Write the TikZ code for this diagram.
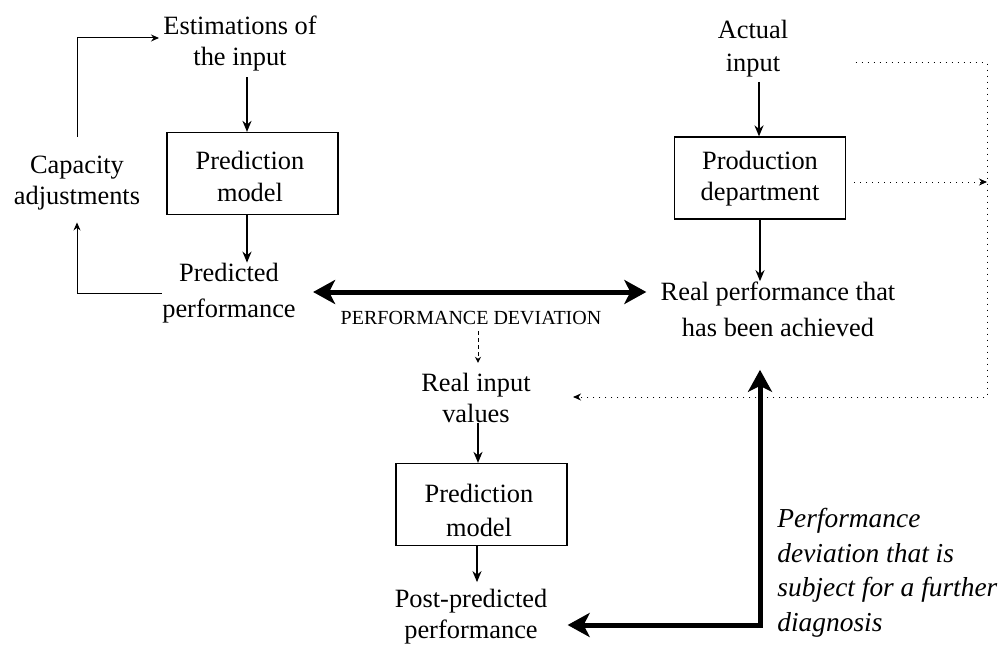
\documentclass[tikz,border=0pt]{standalone}
\usepackage{fontspec}
\setmainfont{Liberation Serif}
\usetikzlibrary{arrows.meta}
\begin{document}
\begin{tikzpicture}[x=0.5pt,y=-0.5pt,
  lbl/.style={align=center,inner sep=0pt,font=\fontsize{13.2}{15.5}\selectfont},
  wide/.style={font=\fontsize{13.2}{18}\selectfont},
  boxn/.style={draw,line width=0.6pt,minimum width=85.5pt,minimum height=41pt,inner sep=0pt},
  arr/.style={line width=1pt,-{Stealth[length=5.5pt,width=4.5pt]}},
  fbarr/.style={line width=0.5pt,-{Stealth[length=4pt,width=3.5pt]}},
  bigarr/.style={line width=2.5pt,{Stealth[length=11pt,width=12pt,inset=3pt]}-{Stealth[length=11pt,width=12pt,inset=3pt]}},
  dsharr/.style={line width=0.5pt,dash pattern=on 2pt off 1.5pt,-{Stealth[length=3pt,width=3pt]}},
  dotarr/.style={line width=0.5pt,dash pattern=on 0.5pt off 2.5pt,-{Stealth[length=4pt,width=3.5pt]}},
]
\useasboundingbox (0,0) rectangle (1006,647);

% nodes
\node[lbl] (est) at (240,44) {Estimations of\\the input};
\node[boxn] (pm1) at (252.5,173.5) {};
\node[lbl,font=\fontsize{13.2}{16}\selectfont] (pm1t) at (250,176) {Prediction\\model};
\node[lbl] (cap) at (77,183) {Capacity\\adjustments};
\node[lbl,wide] (pred) at (229,293) {Predicted\\performance};
\node[lbl,font=\fontsize{13.2}{16.5}\selectfont] (act) at (753,49) {Actual\\input};
\node[boxn] (prod) at (760,178) {};
\node[lbl,font=\fontsize{13.2}{15.5}\selectfont] (prodt) at (760,179) {Production\\department};
\node[lbl,wide] (real) at (778,309) {Real performance that\\has been achieved};
\node[font=\fontsize{10}{12}\selectfont,inner sep=0pt] (dev) at (471,318) {PERFORMANCE DEVIATION};
\node[lbl] (rin) at (476,398) {Real input\\values};
\node[boxn] (pm2) at (481.5,504.5) {};
\node[lbl,font=\fontsize{13.2}{17}\selectfont] (pm2t) at (479,510) {Prediction\\model};
\node[lbl] (post) at (471,617) {Post-predicted\\performance};
\node[font=\itshape\fontsize{13.7}{17.3}\selectfont,align=left,anchor=north west,inner sep=0pt] (diag) at (777,508) {Performance\\deviation that is\\subject for a further\\diagnosis};

% helper coordinates
\coordinate (a1) at (247,0);
\coordinate (a2) at (478,0);
\coordinate (a3) at (477,0);
\coordinate (a4) at (759,0);
\coordinate (lc) at (760,625);
\coordinate (dy) at (0,292);
\coordinate (dtr) at (987,63);
\coordinate (dbr) at (987,397);
\coordinate (dmid) at (987,182);

% left column
\draw[arr] ([yshift=-2.5pt]est.south -| a1) -- (pm1.north -| a1);
\draw[arr] (pm1.south -| a1) -- (pred.north -| a1);
\draw[fbarr] (pred.west) -| ([yshift=-6pt]cap.south);
\draw[fbarr] ([yshift=9.5pt]cap.north) |- ([xshift=-2pt,yshift=3pt]est.west);

% right column
\draw[arr] ([yshift=-2pt]act.south -| a4) -- (prod.north -| a4);
\draw[arr] (prod.south) -- (real.north -| prod.south);

% deviation
\draw[bigarr] ([xshift=8.5pt]pred.east |- dy) -- ([xshift=-7pt]real.west |- dy);
\draw[dsharr] ([yshift=-3pt]dev.south -| a2) -- ([yshift=5pt]rin.north -| a2);

% lower column
\draw[arr] (rin.south -| a2) -- (pm2.north -| a2);
\draw[arr] (pm2.south -| a3) -- ([yshift=3.5pt]post.north -| a3);

% further diagnosis
\draw[bigarr] ([xshift=10pt]post.east |- lc) -- (lc) -- ([yshift=-16.5pt]real.south -| lc);

% dotted loop
\draw[dotarr] ([xshift=33.5pt]act.east |- dtr) -- (dtr) -- (dbr) -- ([xshift=21pt]rin.east |- dbr);
\draw[dotarr] ([xshift=4pt]prod.east |- dmid) -- (dmid);
\end{tikzpicture}
\end{document}
